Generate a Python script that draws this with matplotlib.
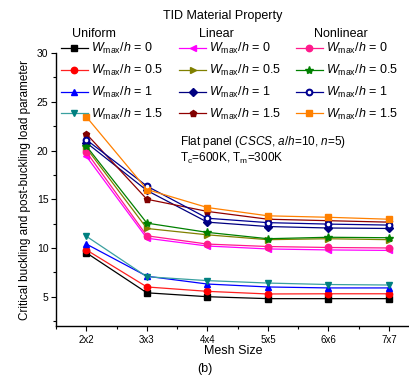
import matplotlib
matplotlib.use("Agg")
import matplotlib.pyplot as plt
from matplotlib.ticker import MultipleLocator

plt.rcParams['font.family'] = ['Liberation Sans', 'DejaVu Sans']
plt.rcParams['mathtext.fontset'] = 'custom'
plt.rcParams['mathtext.rm'] = 'Liberation Sans'
plt.rcParams['mathtext.it'] = 'Liberation Sans:italic'
plt.rcParams['mathtext.bf'] = 'Liberation Sans:bold'

# Data
mesh = ['2x2', '3x3', '4x4', '5x5', '6x6', '7x7']
uni_0 = [9.5, 5.4, 5.0, 4.8, 4.8, 4.8]
uni_05 = [9.8, 6.0, 5.55, 5.28, 5.3, 5.3]
uni_1 = [10.4, 7.1, 6.3, 6.0, 5.9, 5.9]
uni_15 = [11.2, 7.05, 6.65, 6.4, 6.25, 6.2]
lin_0 = [19.4, 11.0, 10.2, 9.9, 9.8, 9.75]
lin_05 = [20.25, 12.0, 11.35, 10.85, 10.95, 10.85]
lin_1 = [20.8, 15.9, 12.65, 12.2, 12.05, 12.0]
lin_15 = [21.7, 15.0, 13.75, 12.95, 12.8, 12.65]
non_0 = [19.85, 11.25, 10.4, 10.15, 10.05, 10.0]
non_05 = [20.45, 12.55, 11.6, 10.95, 11.1, 11.05]
non_1 = [21.1, 16.35, 13.05, 12.6, 12.45, 12.35]
non_15 = [23.45, 16.0, 14.15, 13.3, 13.15, 12.95]
ratios = ['0', '0.5', '1', '1.5']

x = list(range(len(mesh)))

fig = plt.figure(figsize=(4.1, 3.79), dpi=100)
ax = fig.add_axes([0.137, 0.14, 0.863, 0.72])

def lab(r):
    return r'$W_{\mathrm{max}}/h$ = ' + r

lw = 0.9
ms = 4.6
uni_style = [(uni_0, 'black', 'black', 's'), (uni_05, '#ff2020', 'red', 'o'),
             (uni_1, '#0000ff', '#0000ff', '^'), (uni_15, '#3aa0a0', '#008080', 'v')]
lin_style = [(lin_0, '#ff00ff', '#ff00ff', '<'), (lin_05, '#808000', '#808000', '>'),
             (lin_1, '#000080', '#000080', 'D'), (lin_15, '#900000', '#800000', 'p')]
non_style = [(non_0, '#ff1a8c', '#ff1a8c', 'o'), (non_05, '#008000', '#008000', '*'),
             (non_1, '#000090', '#000090', 'o'), (non_15, '#ff8000', '#ff8000', 's')]

groups = []
for style in (uni_style, lin_style, non_style):
    handles = []
    for vals, lc, mc, mk in style:
        size = ms + 1.5 if mk == '*' else (ms - 0.6 if mk == 'D' else ms)
        h, = ax.plot(x, vals, color=lc, lw=lw, marker=mk, ms=size,
                     mfc=mc, mec=mc, zorder=3)
        handles.append(h)
    groups.append(handles)

# white dot inside the nonlinear W/h=1 circles
dot, = ax.plot(x, non_1, ls='none', marker='o', ms=1.6, mfc='white',
               mec='white', zorder=4)
groups[2][2] = (groups[2][2], dot)

ax.set_xlim(-0.5, 5.35)
ax.set_ylim(2, 30)
ax.set_xticks(x)
ax.set_xticklabels(mesh)
ax.xaxis.set_minor_locator(MultipleLocator(0.5))
ax.yaxis.set_major_locator(MultipleLocator(5))
ax.yaxis.set_minor_locator(MultipleLocator(2.5))
ax.set_yticks([5, 10, 15, 20, 25, 30])
ax.tick_params(axis='both', which='major', labelsize=7.5, length=3.5, width=0.8, pad=2)
ax.tick_params(axis='both', which='minor', length=2, width=0.8)
ax.tick_params(axis='x', labelsize=7, pad=3)
for s in ('top', 'right'):
    ax.spines[s].set_visible(False)
for s in ('left', 'bottom'):
    ax.spines[s].set_linewidth(1.0)

ax.set_xlabel('Mesh Size', fontsize=9, labelpad=0)
ax.set_ylabel('Critical buckling and post-buckling load parameter', fontsize=8.5, labelpad=4)
fig.text(0.5, 0.018, '(b)', fontsize=9, ha='center')

ax.text(0.35, 0.674, r'Flat panel ($CSCS$, $a/h$=10, $n$=5)', transform=ax.transAxes,
        fontsize=8.5, va='center')
ax.text(0.35, 0.612, r'T$_\mathrm{c}$=600K, T$_\mathrm{m}$=300K', transform=ax.transAxes,
        fontsize=8.5, va='center')

fig.text(0.542, 0.957, 'TID Material Property', fontsize=9, ha='center', va='center')
titles = ['Uniform', 'Linear', 'Nonlinear']
title_x = [0.229, 0.528, 0.832]
leg_x = [0.148, 0.436, 0.721]
for i, handles in enumerate(groups):
    fig.text(title_x[i], 0.91, titles[i], fontsize=9, ha='center', va='center')
    fig.legend(handles, [lab(r) for r in ratios], loc='upper left',
               bbox_to_anchor=(leg_x[i], 0.892), frameon=False, fontsize=9,
               handlelength=2.2, handletextpad=0.25, labelspacing=0.55,
               borderpad=0, borderaxespad=0)

fig.savefig('out.png', dpi=100)
